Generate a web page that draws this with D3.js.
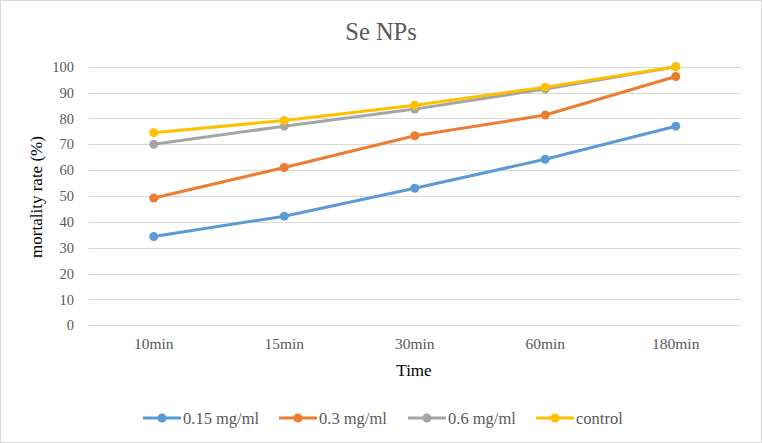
<!DOCTYPE html>
<html><head><meta charset="utf-8">
<script src="https://cdn.jsdelivr.net/npm/d3@7/dist/d3.min.js"></script>
<style>body{margin:0;background:#fff}svg{display:block}</style>
</head><body>
<svg id="c" width="762" height="443"></svg>
<script>
const categories = ["10min","15min","30min","60min","180min"];
const seriesNames = ["0.15 mg/ml","0.3 mg/ml","0.6 mg/ml","control"];
const s015 = [34.3, 42.2, 53, 64.2, 77];
const s03 = [49.2, 61, 73.3, 81.3, 96.2];
const s06 = [70, 77, 83.6, 91.4, 100];
const sControl = [74.5, 79.2, 85.1, 92.1, 100];
const yTicks = [0,10,20,30,40,50,60,70,80,90,100];
const colors = ["#5B9BD5","#ED7D31","#A5A5A5","#FFC000"];
const allSeries = [s015, s03, s06, sControl];

const svg = d3.select("#c");
const font = "'Liberation Serif', 'Times New Roman', serif";
svg.append("rect").attr("x",0.5).attr("y",0.5).attr("width",761).attr("height",442)
  .attr("fill","#fff").attr("stroke","#d9d9d9");

const x = d3.scaleBand().domain(categories).range([88.5, 741]);
const y = d3.scaleLinear().domain([0,100]).range([325.3, 66.7]);

// gridlines
svg.append("g").selectAll("line").data(yTicks).join("line")
  .attr("x1", 88.5).attr("x2", 741)
  .attr("y1", d=>Math.round(y(d))+0.5).attr("y2", d=>Math.round(y(d))+0.5)
  .attr("stroke","#d9d9d9").attr("stroke-width",1);

// y axis labels
const ya = svg.append("g").attr("transform","translate(74,0)")
  .call(d3.axisLeft(y).tickValues(yTicks).tickSize(0).tickPadding(0));
ya.select(".domain").remove();
ya.selectAll("text").attr("font-family",font).attr("font-size",14.5).attr("fill","#595959");

// x axis labels
const xa = svg.append("g").attr("transform","translate(0,337)")
  .call(d3.axisBottom(x).tickSize(0).tickPadding(0));
xa.select(".domain").remove();
xa.selectAll("text").attr("font-family",font).attr("font-size",15.5).attr("fill","#595959").attr("dy","0.75em");

// title
svg.append("text").attr("x",381).attr("y",40).attr("text-anchor","middle")
  .attr("font-family",font).attr("font-size",24.5).attr("fill","#595959").text("Se NPs");
// axis titles
svg.append("text").attr("transform","translate(42,197) rotate(-90)").attr("text-anchor","middle")
  .attr("font-family",font).attr("font-size",17).attr("fill","#000").text("mortality  rate (%)");
svg.append("text").attr("x",414).attr("y",376).attr("text-anchor","middle")
  .attr("font-family",font).attr("font-size",17).attr("fill","#000").text("Time");

// lines
const line = d3.line().x((d,i)=>x(categories[i])+x.bandwidth()/2).y(d=>y(d));
allSeries.forEach((s,k)=>{
  const g = svg.append("g");
  g.append("path").datum(s).attr("d",line).attr("fill","none")
    .attr("stroke",colors[k]).attr("stroke-width",3).attr("stroke-linejoin","round").attr("stroke-linecap","round");
  g.selectAll("circle").data(s).join("circle")
    .attr("cx",(d,i)=>x(categories[i])+x.bandwidth()/2).attr("cy",d=>y(d)).attr("r",4.5)
    .attr("fill",colors[k]);
});

// legend
const legX = [143, 279, 408, 536];
seriesNames.forEach((n,k)=>{
  const g = svg.append("g").attr("transform",`translate(${legX[k]},418)`);
  g.append("line").attr("x1",0).attr("x2",38).attr("y1",0).attr("y2",0)
    .attr("stroke",colors[k]).attr("stroke-width",3);
  g.append("circle").attr("cx",19).attr("cy",0).attr("r",4.5).attr("fill",colors[k]);
  g.append("text").attr("x",40).attr("y",5.5).attr("font-family",font).attr("font-size",16.5)
    .attr("fill","#595959").text(n);
});
</script>
</body></html>
